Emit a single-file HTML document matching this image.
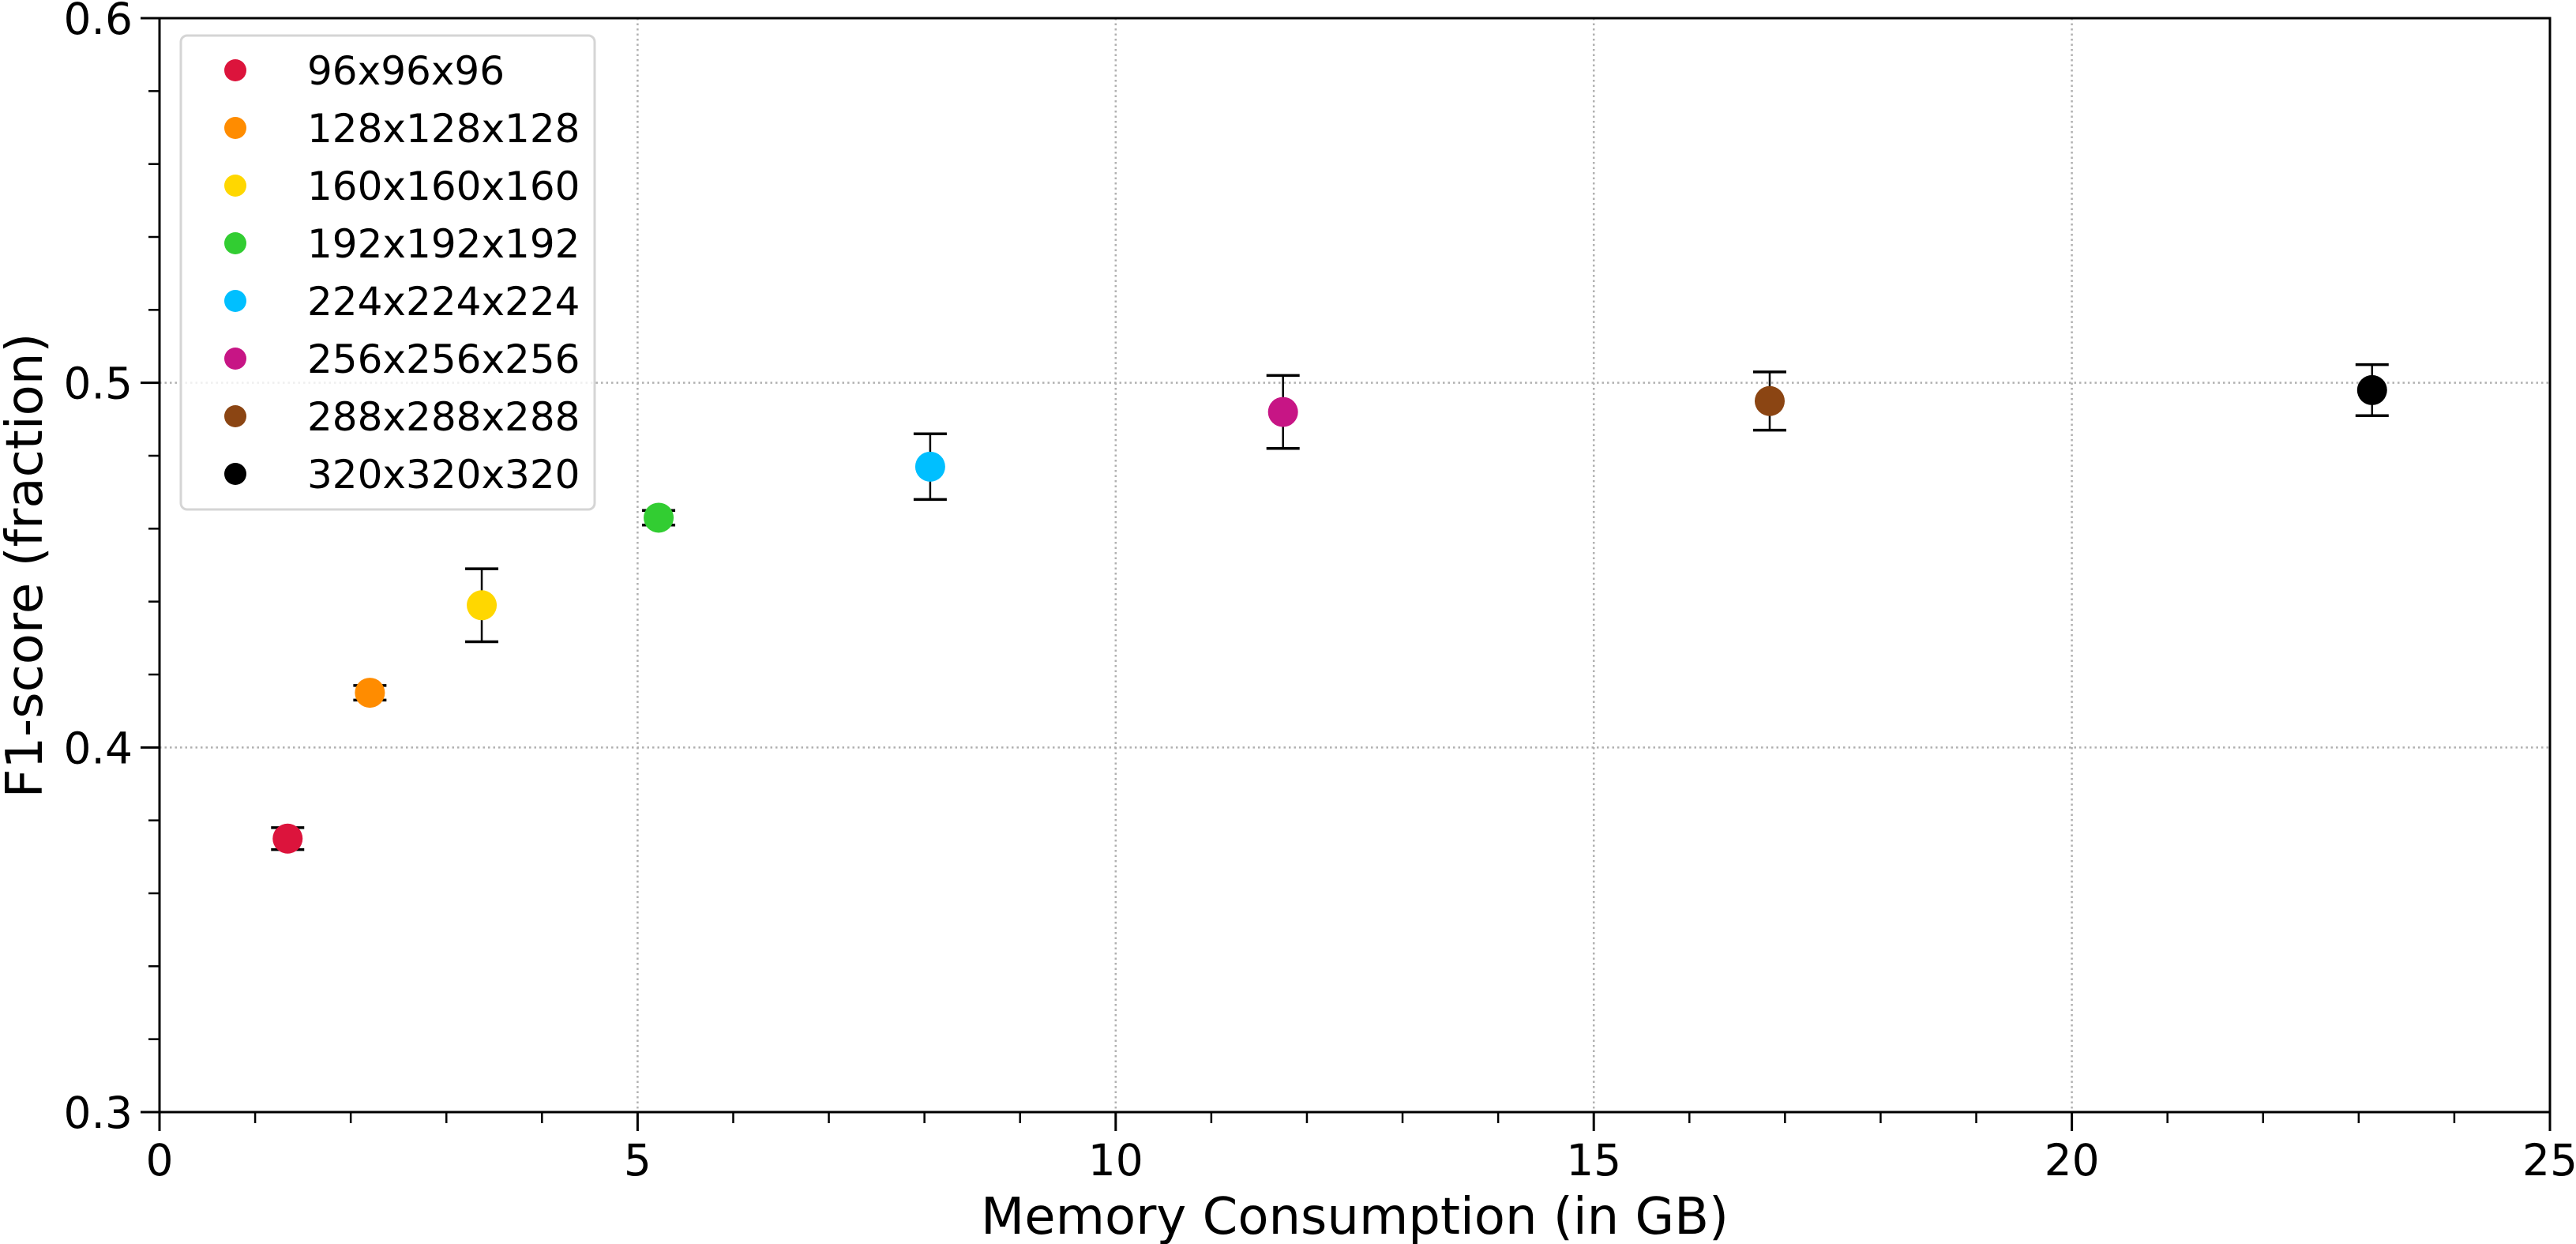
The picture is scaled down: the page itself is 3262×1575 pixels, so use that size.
<!DOCTYPE html>
<html><head><meta charset="utf-8"><style>
html,body{margin:0;padding:0;background:#fff;}
svg{display:block;font-family:"DejaVu Sans","Liberation Sans",sans-serif;}
</style></head><body>
<svg id="chart" width="3262" height="1575" viewBox="0 0 3262 1575" xmlns="http://www.w3.org/2000/svg"></svg>
<script>
const labels = ["96x96x96","128x128x128","160x160x160","192x192x192","224x224x224","256x256x256","288x288x288","320x320x320"];
const memory = [1.34, 2.2, 3.37, 5.22, 8.06, 11.75, 16.84, 23.14];
const f1 = [0.375, 0.415, 0.439, 0.463, 0.477, 0.492, 0.495, 0.498];
const err = [0.003, 0.002, 0.01, 0.002, 0.009, 0.01, 0.008, 0.007];
const colors = ["#dc143c","#ff8c00","#ffd700","#32cd32","#00bfff","#c71585","#8b4513","#000000"];
const xTicks = [0,5,10,15,20,25];
const yTicks = [0.3,0.4,0.5,0.6];
const yTickLabels = ["0.3","0.4","0.5","0.6"];

const L=202,R=3229,T=23,B=1408;
const xMin=0,xMax=25,yMin=0.3,yMax=0.6;
const sx=v=>L+(v-xMin)/(xMax-xMin)*(R-L);
const sy=v=>B-(v-yMin)/(yMax-yMin)*(B-T);
const svg=document.getElementById('chart');
const NS='http://www.w3.org/2000/svg';
function mk(tag,attrs,parent){const e=document.createElementNS(NS,tag);for(const k in attrs)e.setAttribute(k,attrs[k]);(parent||svg).appendChild(e);return e;}

const grid=mk('g',{});


xTicks.forEach(v=>{if(v>xMin&&v<xMax)mk('line',{x1:sx(v),x2:sx(v),y1:T,y2:B,stroke:'#b0b0b0','stroke-width':2.5,'stroke-dasharray':'2.5 4'},grid);});
yTicks.forEach(v=>{if(v>yMin&&v<yMax)mk('line',{x1:L,x2:R,y1:sy(v),y2:sy(v),stroke:'#b0b0b0','stroke-width':2.5,'stroke-dasharray':'2.5 4'},grid);});

const ticks=mk('g',{});


for(let v=0;v<=25;v++){const major=v%5===0;mk('line',{x1:sx(v),x2:sx(v),y1:B,y2:B+(major?24:14),stroke:'#000','stroke-width':major?3:2.5},ticks);}
for(let i=0;i<=15;i++){const v=0.3+i*0.02;const major=i%5===0;mk('line',{x1:L,x2:L-(major?24:14),y1:sy(v),y2:sy(v),stroke:'#000','stroke-width':major?3:2.5},ticks);}
xTicks.forEach(v=>{const t=mk('text',{x:sx(v),y:B+80,'font-size':55,'text-anchor':'middle',fill:'#000'});t.textContent=String(v);

});
yTicks.forEach((v,i)=>{const t=mk('text',{x:L-34,y:sy(v)+20,'font-size':55,'text-anchor':'end',fill:'#000'});t.textContent=yTickLabels[i];

});

memory.forEach((m,i)=>{
  const g=mk('g',{});
  
  
  const x=sx(m),y1=sy(f1[i]+err[i]),y2=sy(f1[i]-err[i]);
  mk('line',{x1:x,x2:x,y1:y1,y2:y2,stroke:'#000','stroke-width':2.5},g);
  mk('line',{x1:x-21,x2:x+21,y1:y1,y2:y1,stroke:'#000','stroke-width':3.5},g);
  mk('line',{x1:x-21,x2:x+21,y1:y2,y2:y2,stroke:'#000','stroke-width':3.5},g);
  mk('circle',{cx:x,cy:sy(f1[i]),r:19,fill:colors[i]},g);
});

const frame=mk('rect',{x:L,y:T,width:R-L,height:B-T,fill:'none',stroke:'#000','stroke-width':3});



const lg=mk('g',{});


mk('rect',{x:229,y:45,width:524,height:600,rx:8,fill:'#fff','fill-opacity':0.8,stroke:'#d5d5d5','stroke-width':3},lg);
labels.forEach((lab,i)=>{
  const y=89+i*73;
  const e=mk('g',{},lg);
  
  
  mk('circle',{cx:298,cy:y,r:14,fill:colors[i]},e);
  const t=mk('text',{x:389,y:y+18,'font-size':50,fill:'#000'},e);t.textContent=lab;
});

const xt=mk('text',{x:(L+R)/2,y:1562,'font-size':64,'text-anchor':'middle',fill:'#000'});
xt.textContent='Memory Consumption (in GB)';


const yt=mk('text',{x:0,y:0,'font-size':64,'text-anchor':'middle',fill:'#000',transform:'translate(53,716) rotate(-90)'});
yt.textContent='F1-score (fraction)';


</script>
</body></html>
